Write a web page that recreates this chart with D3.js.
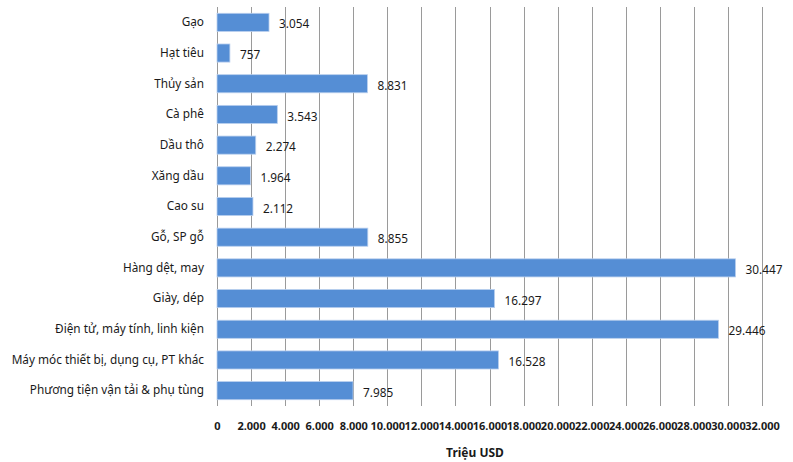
<!DOCTYPE html>
<html>
<head>
<meta charset="utf-8">
<script src="https://cdn.jsdelivr.net/npm/d3@7"></script>
<style>
  body { margin: 0; background: #fff; }
  svg text { font-family: "Noto Sans", "Open Sans", sans-serif; fill: #1a1a1a; }
</style>
</head>
<body>
<div id="chart"></div>
<script>
var categories = ["Gạo", "Hạt tiêu", "Thủy sản", "Cà phê", "Dầu thô", "Xăng dầu", "Cao su",
  "Gỗ, SP gỗ", "Hàng dệt, may", "Giày, dép", "Điện tử, máy tính, linh kiện",
  "Máy móc thiết bị, dụng cụ, PT khác", "Phương tiện vận tải & phụ tùng"];
var values = [3054, 757, 8831, 3543, 2274, 1964, 2112, 8855, 30447, 16297, 29446, 16528, 7985];
var xTicks = [0, 2000, 4000, 6000, 8000, 10000, 12000, 14000, 16000, 18000, 20000, 22000, 24000, 26000, 28000, 30000, 32000];
var axisTitle = "Triệu USD";

var width = 793, height = 462;
var padding = { left: 217, right: 31, top: 7, bottom: 56 };
var fontFam = "'Noto Sans', 'Open Sans', sans-serif";

var vn = d3.formatLocale({ decimal: ",", thousands: ".", grouping: [3], currency: ["", ""] });
var fmt = vn.format(",.0f");

var svg = d3.select("#chart").append("svg")
  .attr("width", width).attr("height", height);

var x = d3.scaleLinear().domain([0, 32000]).range([padding.left, width - padding.right]);
var y = d3.scaleBand().domain(categories)
  .range([padding.top, height - padding.bottom]).paddingInner(0.41).paddingOuter(0.205);

// gridlines
svg.append("g").selectAll("line")
  .data(xTicks).enter().append("line")
  .attr("x1", function(d) { return Math.round(x(d)) + 0.5; })
  .attr("x2", function(d) { return Math.round(x(d)) + 0.5; })
  .attr("y1", padding.top)
  .attr("y2", height - padding.bottom)
  .attr("stroke", "#9a9a9a").attr("stroke-width", 1);

// bars
svg.append("g").selectAll("rect")
  .data(values).enter().append("rect")
  .attr("x", x(0))
  .attr("y", function(d, i) { return y(categories[i]); })
  .attr("width", function(d) { return x(d) - x(0); })
  .attr("height", y.bandwidth())
  .attr("fill", "#558ED5")
  .attr("stroke", "#b9cfee").attr("stroke-width", 0.8);

// value labels
svg.append("g").selectAll("text")
  .data(values).enter().append("text")
  .attr("x", function(d) { return x(d) + 10; })
  .attr("y", function(d, i) { return y(categories[i]) + y.bandwidth() / 2 + 2; })
  .attr("dy", "0.35em")
  .attr("font-size", 11.8)
  .text(function(d) { return fmt(d); });

// category axis
var yAxis = svg.append("g")
  .attr("transform", "translate(" + (padding.left - 13) + ",0)")
  .call(d3.axisLeft(y).tickSize(0).tickPadding(0));
yAxis.select(".domain").remove();
yAxis.selectAll("text").attr("font-size", 11.8).attr("fill", "#1a1a1a")
  .style("font-family", fontFam);

// value axis
var xAxis = svg.append("g")
  .attr("transform", "translate(0," + (height - padding.bottom) + ")")
  .call(d3.axisBottom(x).tickValues(xTicks).tickSize(0).tickPadding(16)
    .tickFormat(function(d) { return fmt(d); }));
xAxis.select(".domain").remove();
xAxis.selectAll("text").attr("font-size", 11).attr("font-weight", "bold").attr("fill", "#1a1a1a")
  .style("font-family", fontFam);

svg.append("text")
  .attr("x", 475).attr("y", 457)
  .attr("text-anchor", "middle")
  .attr("font-size", 12).attr("font-weight", "bold")
  .text(axisTitle);
</script>
</body>
</html>
